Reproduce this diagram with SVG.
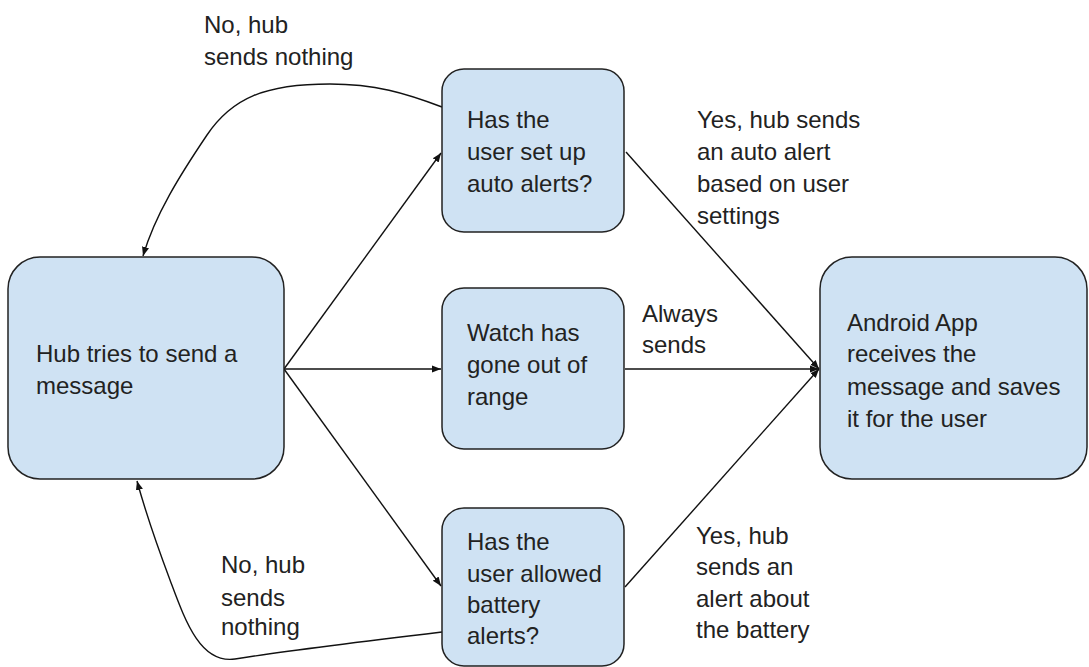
<svg xmlns="http://www.w3.org/2000/svg" width="1089" height="667" viewBox="0 0 1089 667">
<style>
.box{fill:#cfe2f3;stroke:#222;stroke-width:1.5}
text{font-family:"Liberation Sans",Arial,sans-serif;font-size:24px;fill:#222}
.c{fill:none;stroke:#111;stroke-width:1.4}
</style>
<defs>
<marker id="ah" viewBox="0 0 10 10" refX="10" refY="5" markerWidth="9" markerHeight="9" markerUnits="userSpaceOnUse" orient="auto">
<path d="M0,1 L10,5 L0,9 Z" fill="#111"/>
</marker>
</defs>
<rect width="1089" height="667" fill="#fff"/>
<g id="connectors">
<path class="c" d="M284,369 L441,153" marker-end="url(#ah)"/>
<path class="c" d="M284,369 L441,369" marker-end="url(#ah)"/>
<path class="c" d="M284,369 L441,586" marker-end="url(#ah)"/>
<path class="c" d="M626,152 L819,369" marker-end="url(#ah)"/>
<path class="c" d="M625,369 L819,369" marker-end="url(#ah)"/>
<path class="c" d="M625,587 L819,369" marker-end="url(#ah)"/>
<path class="c" d="M442,107 C405,93 375,84 330,84 C265,84 232,98 207,135 C180,175 155,215 143,256" marker-end="url(#ah)"/>
<path class="c" d="M442,632 C350,643 260,655 235,659 C200,664 185,620 170,580 C155,540 145,510 137,481" marker-end="url(#ah)"/>
</g>
<g id="hub">
<rect class="box" x="8" y="257" width="276" height="222" rx="32"/>
<text x="36" y="362">Hub tries to send a</text>
<text x="36" y="394">message</text>
</g>
<g id="autoalerts">
<rect class="box" x="442" y="69" width="182" height="163" rx="22"/>
<text x="467" y="128">Has the</text>
<text x="467" y="160">user set up</text>
<text x="467" y="192">auto alerts?</text>
</g>
<g id="outofrange">
<rect class="box" x="442" y="288" width="182" height="161" rx="22"/>
<text x="467" y="341">Watch has</text>
<text x="467" y="373">gone out of</text>
<text x="467" y="405">range</text>
</g>
<g id="battery">
<rect class="box" x="442" y="508" width="182" height="158" rx="22"/>
<text x="467" y="550">Has the</text>
<text x="467" y="582">user allowed</text>
<text x="467" y="613">battery</text>
<text x="467" y="644">alerts?</text>
</g>
<g id="android">
<rect class="box" x="820" y="257" width="267" height="222" rx="32"/>
<text x="847" y="331">Android App</text>
<text x="847" y="362">receives the</text>
<text x="847" y="395">message and saves</text>
<text x="847" y="427">it for the user</text>
</g>
<g id="labels">
<text x="204" y="33">No, hub</text>
<text x="204" y="65">sends nothing</text>
<text x="697" y="128">Yes, hub sends</text>
<text x="697" y="160">an auto alert</text>
<text x="697" y="192">based on user</text>
<text x="697" y="224">settings</text>
<text x="642" y="322">Always</text>
<text x="642" y="353">sends</text>
<text x="221" y="573">No, hub</text>
<text x="221" y="606">sends</text>
<text x="221" y="635">nothing</text>
<text x="696" y="544">Yes, hub</text>
<text x="696" y="575">sends an</text>
<text x="696" y="607">alert about</text>
<text x="696" y="638">the battery</text>
</g>
</svg>
